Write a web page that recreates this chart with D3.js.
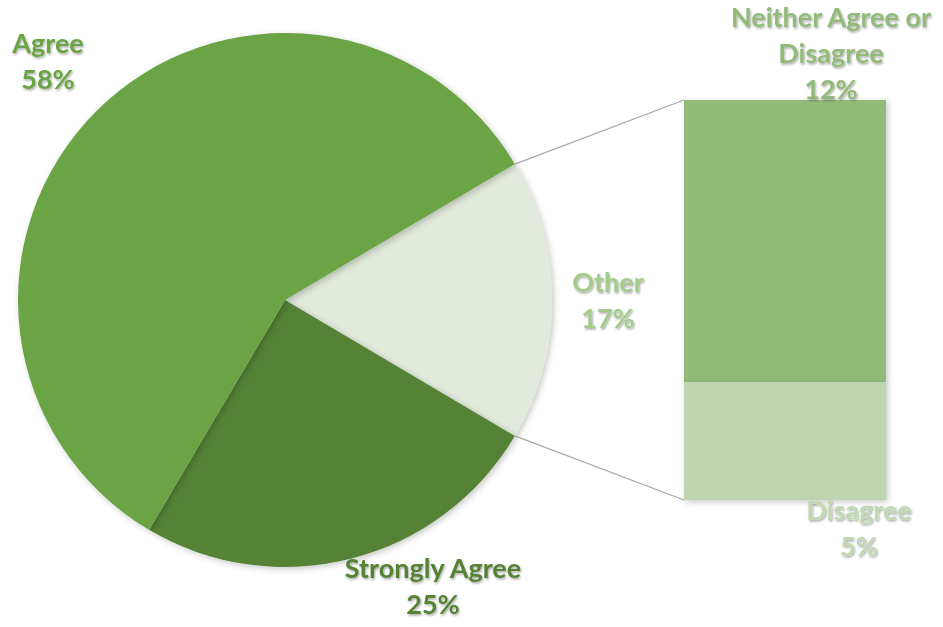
<!DOCTYPE html>
<html>
<head>
<meta charset="utf-8">
<script src="https://cdn.jsdelivr.net/npm/d3@7"></script>
<style>
  html, body { margin: 0; padding: 0; background: #fff; }
  svg { display: block; }
  text { font-family: Lato, "Open Sans", sans-serif; font-weight: 700; }
</style>
</head>
<body>
<svg id="chart" width="943" height="627"></svg>
<script>
// Main pie slices (percent)
const pieCategories = ["Other", "Strongly Agree", "Agree"];
const pieValues = [17, 25, 58];
const pieColors = ["#e2eadb", "#548235", "#6aa444"];
const pieLabelColors = ["#a3cc8b", "#548235", "#6aa444"];

// Breakdown of "Other" shown in the stacked bar (percent)
const barCategories = ["Neither Agree or Disagree", "Disagree"];
const barValues = [12, 5];
const barColors = ["#92bb7a", "#bed5b0"];
const barLabelLines = [["Neither Agree or", "Disagree", "12%"], ["Disagree", "5%"]];
const barLabelColors = ["#92bb7a", "#c2d8b3"];

const svg = d3.select("#chart");
const defs = svg.append("defs");

const shadow = defs.append("filter").attr("id", "shade")
  .attr("x", "-10%").attr("y", "-10%").attr("width", "120%").attr("height", "120%");
shadow.append("feDropShadow").attr("dx", 2).attr("dy", 2).attr("stdDeviation", 3)
  .attr("flood-color", "#000").attr("flood-opacity", 0.22);

const textShadow = defs.append("filter").attr("id", "tshade")
  .attr("x", "-10%").attr("y", "-20%").attr("width", "120%").attr("height", "150%");
textShadow.append("feDropShadow").attr("dx", 1).attr("dy", 1.5).attr("stdDeviation", 1)
  .attr("flood-color", "#000").attr("flood-opacity", 0.35);

// ---- Pie ----
const cx = 285, cy = 300, r = 267;
const otherSpan = pieValues[0] / d3.sum(pieValues) * 2 * Math.PI;
const start = Math.PI / 2 - otherSpan / 2;

const pie = d3.pie().sort(null).value(d => d)
  .startAngle(start).endAngle(start + 2 * Math.PI);
const arcs = pie(pieValues);
const arc = d3.arc().innerRadius(0).outerRadius(r);

const pieG = svg.append("g").attr("transform", `translate(${cx},${cy})`);
pieG.selectAll("path").data(arcs).join("path")
  .attr("d", arc)
  .attr("fill", (d, i) => pieColors[i])
  .attr("filter", "url(#shade)");

// ---- Stacked bar ----
const barX = 684, barW = 202, barTop = 100, barBottom = 500;
const y = d3.scaleLinear().domain([0, d3.sum(barValues)]).range([barTop, barBottom]);
const cum = d3.cumsum([0].concat(barValues));

const barG = svg.append("g");
barG.selectAll("rect").data(barValues).join("rect")
  .attr("x", barX)
  .attr("width", barW)
  .attr("y", (d, i) => y(cum[i]))
  .attr("height", d => y(d) - y(0))
  .attr("fill", (d, i) => barColors[i])
  .attr("filter", "url(#shade)");

// ---- Connector lines from the "Other" slice to the bar ----
const o = arcs[0];
const edgePt = a => [cx + r * Math.sin(a), cy - r * Math.cos(a)];
const p1 = edgePt(o.startAngle), p2 = edgePt(o.endAngle);
svg.append("line").attr("x1", p1[0]).attr("y1", p1[1]).attr("x2", barX).attr("y2", barTop)
  .attr("stroke", "#a6a6a6").attr("stroke-width", 1.2);
svg.append("line").attr("x1", p2[0]).attr("y1", p2[1]).attr("x2", barX).attr("y2", barBottom)
  .attr("stroke", "#a6a6a6").attr("stroke-width", 1.2);

// ---- Labels ----
const fontSize = 27, lineH = 36;
function label(x, yTop, lines, color) {
  const t = svg.append("text")
    .attr("x", x).attr("y", yTop)
    .attr("text-anchor", "middle")
    .attr("font-size", fontSize)
    .attr("fill", color)
    .attr("filter", "url(#tshade)");
  lines.forEach((s, i) => {
    t.append("tspan").attr("x", x).attr("dy", i === 0 ? 0 : lineH).text(s);
  });
}

const pieLabelPos = [[608, 292], [433, 578], [48, 53]];
pieCategories.forEach((c, i) => {
  const pct = Math.round(pieValues[i] / d3.sum(pieValues) * 100) + "%";
  label(pieLabelPos[i][0], pieLabelPos[i][1], [c, pct], pieLabelColors[i]);
});

const barLabelPos = [[831, 27], [859, 520]];
barCategories.forEach((c, i) => {
  label(barLabelPos[i][0], barLabelPos[i][1], barLabelLines[i], barLabelColors[i]);
});
</script>
</body>
</html>
